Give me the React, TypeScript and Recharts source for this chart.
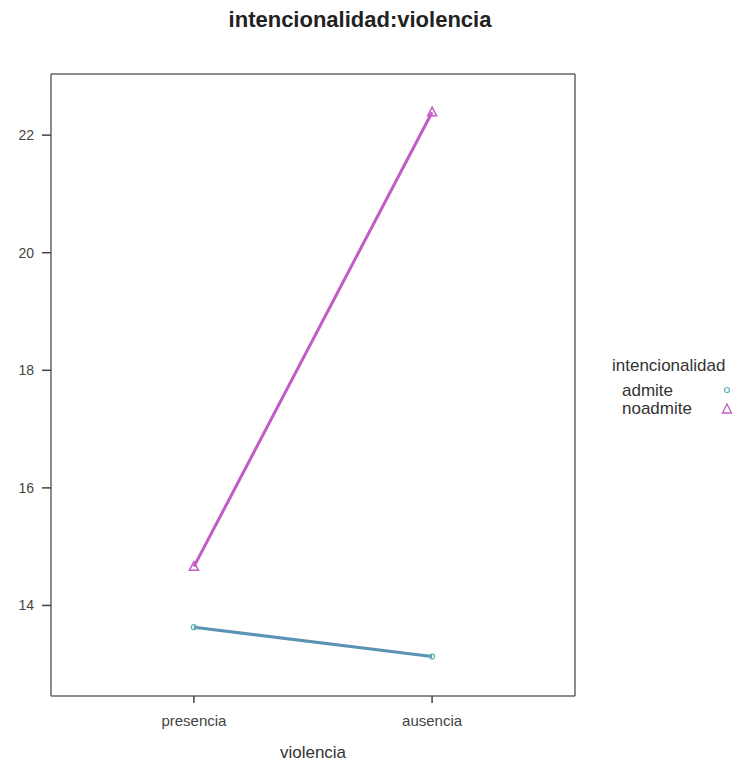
import { LineChart, Line, XAxis, YAxis } from 'recharts';

const categories = ['presencia', 'ausencia'];
const catPos = [1, 2];
const admite = [13.63, 13.13];
const noadmite = [14.66, 22.39];
const yTicks = [14, 16, 18, 20, 22];

const data = categories.map((c, i) => ({ x: catPos[i], cat: c, admite: admite[i], noadmite: noadmite[i] }));

const AX = '#666';
const FONT = '"Liberation Sans", Arial, sans-serif';
const axisLine = { stroke: AX, strokeWidth: 1.5 };
const tickLine = { stroke: '#444', strokeWidth: 1.5 };

const Tri = (props: any) => {
  const { cx, cy } = props;
  if (cx == null || cy == null) return null;
  return (
    <polygon
      points={`${cx},${cy - 5} ${cx - 4.5},${cy + 3.5} ${cx + 4.5},${cy + 3.5}`}
      fill="none"
      stroke="#c25bc6"
      strokeWidth={1.5}
    />
  );
};

const Circ = (props: any) => {
  const { cx, cy } = props;
  if (cx == null || cy == null) return null;
  return <circle cx={cx} cy={cy} r={2.5} fill="none" stroke="#5fb3b8" strokeWidth={1.2} />;
};

export default function App() {
  return (
    <div style={{ position: 'absolute', left: 0, top: 0, width: 740, height: 764, background: '#fff', fontFamily: FONT }}>
      <div style={{ position: 'absolute', top: 7, left: 0, width: 720, textAlign: 'center', fontWeight: 'bold', fontSize: 22, color: '#222' }}>
        intencionalidad:violencia
      </div>
      <LineChart width={740} height={764} data={data} margin={{ top: 73, right: 164, left: 0, bottom: 0 }}>
        <XAxis
          xAxisId="b"
          dataKey="x"
          type="number"
          domain={[0.4, 2.6]}
          ticks={catPos}
          tickFormatter={(v: number) => categories[catPos.indexOf(v)] ?? ''}
          height={68}
          axisLine={axisLine}
          tickLine={tickLine}
          tickSize={7}
          tickMargin={12}
          tick={{ fontSize: 15, fill: '#444', fontFamily: FONT }}
          label={{ value: 'violencia', position: 'insideBottom', offset: 6, fontSize: 17, fill: '#333', fontFamily: FONT }}
        />
        <XAxis
          xAxisId="t"
          dataKey="x"
          type="number"
          orientation="top"
          domain={[0.4, 2.6]}
          ticks={catPos}
          height={1}
          axisLine={axisLine}
          tickLine={tickLine}
          tickSize={7}
          tick={false}
        />
        <YAxis
          yAxisId="l"
          type="number"
          domain={[12.46, 23.04]}
          ticks={yTicks}
          width={51}
          axisLine={axisLine}
          tickLine={tickLine}
          tickSize={9}
          tickMargin={8}
          tick={{ fontSize: 14, fill: '#444', fontFamily: FONT }}
        />
        <YAxis
          yAxisId="r"
          type="number"
          orientation="right"
          domain={[12.46, 23.04]}
          ticks={yTicks}
          width={1}
          axisLine={axisLine}
          tickLine={tickLine}
          tickSize={9}
          tick={false}
        />
        <Line
          xAxisId="b"
          yAxisId="l"
          dataKey="admite"
          stroke="#5b93b5"
          strokeWidth={3}
          dot={<Circ />}
          isAnimationActive={false}
        />
        <Line
          xAxisId="b"
          yAxisId="l"
          dataKey="noadmite"
          stroke="#c25bc6"
          strokeWidth={3}
          dot={<Tri />}
          isAnimationActive={false}
        />
      </LineChart>
      <div style={{ position: 'absolute', left: 612, top: 357, fontSize: 17, color: '#333', lineHeight: '18px' }}>
        <div style={{ marginBottom: 7 }}>intencionalidad</div>
        <div style={{ position: 'relative', paddingLeft: 10 }}>
          admite
          <svg width={10} height={10} style={{ position: 'absolute', left: 110, top: 3 }}>
            <circle cx={5} cy={5} r={2.5} fill="none" stroke="#5fb3b8" strokeWidth={1.2} />
          </svg>
        </div>
        <div style={{ position: 'relative', paddingLeft: 10 }}>
          noadmite
          <svg width={12} height={12} style={{ position: 'absolute', left: 109, top: 3 }}>
            <polygon points="6,1 1.5,10 10.5,10" fill="none" stroke="#c25bc6" strokeWidth={1.3} />
          </svg>
        </div>
      </div>
    </div>
  );
}
